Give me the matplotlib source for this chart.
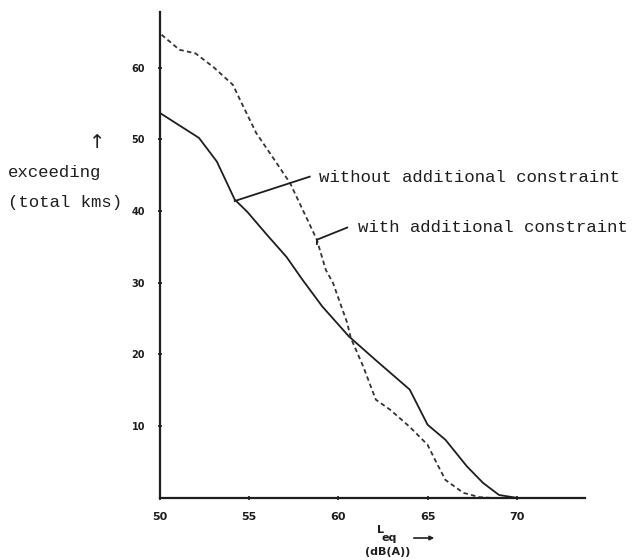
import matplotlib
matplotlib.use("Agg")
import matplotlib.pyplot as plt

# curve without additional constraint (solid)
leq_without = [50.0, 52.2, 53.2, 54.2, 54.9, 56.0, 57.1, 58.0, 59.1, 60.6, 62.1, 64.0,
               65.0, 66.0, 67.2, 68.1, 69.0, 70.0]
kms_without = [53.7, 50.2, 46.9, 41.6, 39.9, 36.7, 33.6, 30.4, 26.7, 22.5, 19.2, 15.1,
               10.2, 8.1, 4.4, 2.1, 0.4, 0.0]

# curve with additional constraint (dashed)
leq_with = [50.1, 51.1, 52.0, 53.0, 54.1, 54.5, 55.4, 56.3, 57.3, 58.8, 59.3, 59.7,
            60.5, 60.7, 61.4, 62.1, 62.9, 64.0, 65.0, 65.5, 66.0, 67.0, 67.9, 68.5]
kms_with = [64.6, 62.5, 62.0, 60.1, 57.6, 55.5, 50.9, 47.6, 43.9, 36.0, 31.8, 30.0,
            24.4, 22.3, 18.3, 13.7, 12.3, 9.9, 7.4, 4.9, 2.5, 0.7, 0.1, 0.0]

xticks = [50, 55, 60, 65, 70]
yticks = [10, 20, 30, 40, 50, 60]

mono = "Liberation Mono"
ink = "#1e1e1e"

fig = plt.figure(figsize=(6.39, 5.6), dpi=100)
ax = fig.add_axes([0.250, 0.111, 0.665, 0.868])

ax.plot(leq_without, kms_without, color=ink, lw=1.3)
ax.plot(leq_with, kms_with, color="#333333", lw=1.3, dashes=(2.5, 1.8))

ax.set_xlim(50, 73.8)
ax.set_ylim(0, 67.8)
ax.spines["top"].set_visible(False)
ax.spines["right"].set_visible(False)
for s in ["left", "bottom"]:
    ax.spines[s].set_linewidth(1.6)
    ax.spines[s].set_color(ink)

ax.set_xticks(xticks)
ax.set_yticks(yticks)
ax.tick_params(axis="both", direction="inout", length=3, width=1.2, color=ink)
ax.tick_params(axis="x", pad=9)
ax.tick_params(axis="y", pad=9)
for lab in ax.get_xticklabels():
    lab.set_fontsize(8)
    lab.set_fontweight("bold")
    lab.set_color(ink)
for lab in ax.get_yticklabels():
    lab.set_fontsize(7)
    lab.set_fontweight("bold")
    lab.set_color(ink)

# leader lines and labels
ax.plot([54.2, 58.4], [41.4, 44.8], color=ink, lw=1.3)
ax.text(58.9, 44.7, "without additional constraint", fontsize=12.5, family=mono,
        va="center", ha="left", color=ink)
ax.plot([58.8, 58.8, 60.5], [35.4, 36.0, 37.7], color=ink, lw=1.3)
ax.text(61.1, 37.7, "with additional constraint", fontsize=12.5, family=mono,
        va="center", ha="left", color=ink)

# y label with arrow
fig.text(97 / 639, 1 - 143 / 560, "\u2191", fontsize=14, ha="center", va="center",
         color=ink)
fig.text(8 / 639, 1 - 173 / 560, "exceeding", fontsize=12.5, family=mono,
         ha="left", va="center", color=ink)
fig.text(8 / 639, 1 - 203 / 560, "(total kms)", fontsize=12.5, family=mono,
         ha="left", va="center", color=ink)

# x label
fig.text(380 / 639, 1 - 530 / 560, "L", fontsize=8, fontweight="bold",
         ha="center", va="center", color=ink)
fig.text(389 / 639, 1 - 538 / 560, "eq", fontsize=8, fontweight="bold",
         ha="center", va="center", color=ink)
ax.annotate("", xy=(437 / 639, 1 - 538 / 560), xytext=(411 / 639, 1 - 538 / 560),
            xycoords="figure fraction", textcoords="figure fraction",
            annotation_clip=False,
            arrowprops=dict(arrowstyle="-|>", color=ink, lw=1.2,
                            mutation_scale=6))
fig.text(388 / 639, 1 - 552 / 560, "(dB(A))", fontsize=8, fontweight="bold",
         ha="center", va="center", color=ink)

fig.savefig("out.png", dpi=100)
